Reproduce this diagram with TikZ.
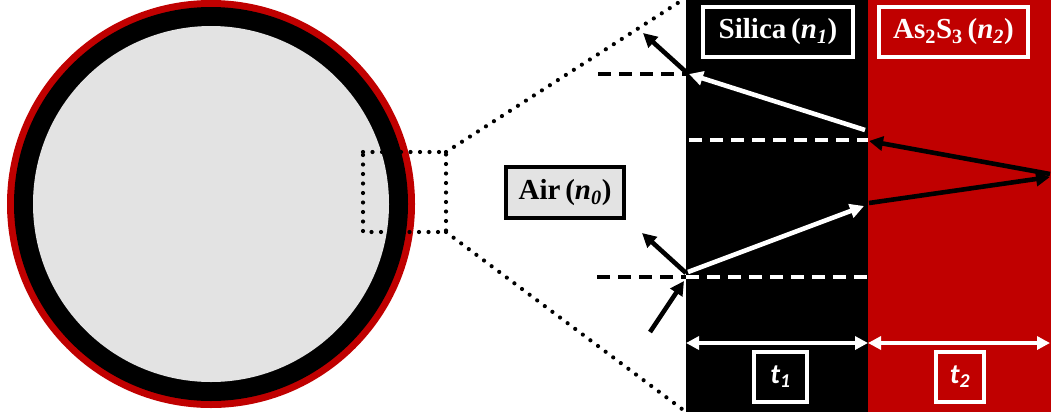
\documentclass[tikz,border=0pt]{standalone}
\usepackage{fontspec}
\setmainfont{Liberation Serif}
\newfontfamily\calib{Carlito}
\usetikzlibrary{arrows.meta}
\definecolor{dred}{HTML}{C00000}
\definecolor{lgray}{HTML}{E3E3E3}
\tikzset{
  dotline/.style={line width=4.2pt, dash pattern=on 0pt off 9.5pt, line cap=round},
  bdash/.style={line width=4pt, dash pattern=on 13pt off 8pt},
  wdash/.style={bdash, white},
  bray/.style={line width=4.6pt, -{Triangle[length=14pt,width=14pt]}},
  wray/.style={bray, white},
  dimarrow/.style={line width=4.2pt, white, {Triangle[length=13pt,width=13pt]}-{Triangle[length=13pt,width=13pt]}},
  wbox/.style={draw=white, line width=4pt, text=white, inner sep=0pt, font=\bfseries\fontsize{29}{30}\selectfont},
  tbox/.style={draw=white, line width=4pt, text=white, inner sep=0pt, font=\calib\bfseries\itshape\fontsize{28}{30}\selectfont},
}
\begin{document}
\begin{tikzpicture}[x=1pt,y=-1pt]
\useasboundingbox (0,0) rectangle (1051,418);
% fibre cross-section
\fill[dred] (211,204) circle (204pt);
\fill[black] (211,204) circle (197pt);
\fill[lgray] (211,204) circle (178pt);
% layers
\fill[black] (686,0) rectangle (868,412);
\fill[dred] (868,0) rectangle (1051,412);
% zoom box
\coordinate (zA) at (363,152);
\coordinate (zB) at (446,152);
\coordinate (zC) at (446,232);
\coordinate (zD) at (363,232);
\coordinate (eT) at (684,-1);
\coordinate (eB) at (686,412);
\draw[dotline] (zA) -- (zB) -- (zC) -- (zD) -- cycle;
\draw[dotline] (zB) -- (eT);
\draw[dotline] (zC) -- (eB);
% dashed normals
\coordinate (n1a) at (597,277);
\coordinate (n1b) at (686,277);
\coordinate (n1c) at (868,277);
\coordinate (n2a) at (598,74);
\coordinate (n2b) at (686,74);
\coordinate (n3a) at (689,140);
\coordinate (n3b) at (868,140);
\draw[bdash] (n1a) -- (n1b);
\draw[wdash] (n1b) -- (n1c);
\draw[bdash] (n2a) -- (n2b);
\draw[wdash] (n3a) -- (n3b);
% rays
\coordinate (r0) at (650,332);
\coordinate (r1) at (684,281);
\coordinate (r1s) at (686,273);
\coordinate (r1r) at (642,233);
\coordinate (r1t) at (688,272);
\coordinate (r2) at (864,206);
\coordinate (r2s) at (869,203);
\coordinate (r3) at (1050,177);
\coordinate (r3s) at (1050,174);
\coordinate (r4) at (869,141);
\coordinate (r4s) at (865,130);
\coordinate (r5) at (689,74);
\coordinate (r5s) at (686,72);
\coordinate (r5r) at (643,33);
\draw[bray] (r0) -- (r1);
\draw[bray] (r1s) -- (r1r);
\draw[wray] (r1t) -- (r2);
\draw[bray] (r2s) -- (r3);
\draw[bray] (r3s) -- (r4);
\draw[wray] (r4s) -- (r5);
\draw[bray] (r5s) -- (r5r);
% thickness arrows
\coordinate (d1) at (686,343);
\coordinate (d2) at (868,343);
\coordinate (d3) at (1050,343);
\draw[dimarrow] (d1) -- (d2);
\draw[dimarrow] (d2) -- (d3);
% labels
\node[wbox, fill=black, minimum width=150pt, minimum height=50pt] (silica) at (778,32) {Silica\,(\textit{n}\textsubscript{\textit{1}})};
\node[wbox, fill=dred, minimum width=149pt, minimum height=50pt] (as2s3) at (953.5,32) {As\textsubscript{2}S\textsubscript{3}\,(\textit{n}\textsubscript{\textit{2}})};
\node[draw=black, line width=4pt, fill=lgray, inner sep=0pt, minimum width=118pt, minimum height=51pt, font=\bfseries\fontsize{29}{30}\selectfont] (air) at (565,192.5) {Air\,(\textit{n}\textsubscript{\textit{0}})};
\node[tbox, fill=black, minimum width=53pt, minimum height=50pt] (t1) at (780.5,377) {t\textsubscript{1}};
\node[tbox, fill=dred, minimum width=48pt, minimum height=50pt] (t2) at (960,377) {t\textsubscript{2}};
\end{tikzpicture}
\end{document}
